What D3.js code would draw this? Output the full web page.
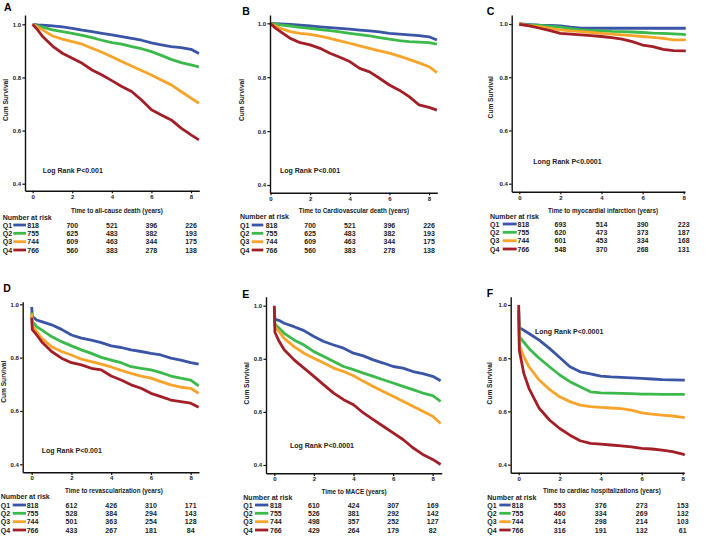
<!DOCTYPE html>
<html><head><meta charset="utf-8">
<script src="https://cdn.jsdelivr.net/npm/d3@7"></script>
<style>
body{margin:0;background:#fff;}
svg{display:block;font-family:"Liberation Sans",Arial,Helvetica,sans-serif;}
</style></head><body>
<svg id="chart" width="709" height="536"></svg>
<script>
// ---------- DATA ----------
const groups = ["Q1","Q2","Q3","Q4"];
const xTicks = [0,2,4,6,8];
const yTicks = [0.4,0.6,0.8,1.0];
const riskTimes = [0,2,4,6,8];
const timesLong  = [0,0.03,0.25,0.5,1,1.5,2,2.5,3,3.5,4,4.5,5,5.5,6,6.5,7,7.5,8,8.4];
const timesShort = [0,0.03,0.25,0.5,1,1.5,2,2.5,3,3.5,4,4.5,5,5.5,6,6.5,7,7.5,8,8.1];

// A: all-cause death
const survA_Q1 = [1,1,.998,.997,.994,.99,.985,.978,.972,.966,.96,.954,.947,.94,.93,.923,.916,.912,.906,.89];
const survA_Q2 = [1,.999,.994,.989,.979,.972,.966,.958,.95,.94,.931,.925,.916,.908,.897,.883,.868,.856,.847,.84];
const survA_Q3 = [1,.998,.99,.979,.956,.944,.935,.925,.91,.895,.878,.86,.843,.826,.809,.79,.772,.747,.722,.703];
const survA_Q4 = [1,.997,.979,.954,.918,.891,.872,.853,.828,.809,.788,.766,.747,.715,.678,.659,.64,.609,.584,.565];
// B: cardiovascular death
const survB_Q1 = [1,1,.999,.998,.996,.993,.99,.987,.984,.981,.978,.975,.972,.968,.963,.96,.957,.954,.95,.938];
const survB_Q2 = [1,1,.997,.994,.99,.985,.981,.977,.973,.968,.963,.958,.953,.947,.941,.936,.932,.93,.928,.923];
const survB_Q3 = [1,.998,.99,.981,.969,.963,.959,.952,.944,.935,.926,.916,.907,.898,.889,.878,.866,.853,.839,.817];
const survB_Q4 = [1,.997,.982,.969,.944,.928,.92,.907,.889,.874,.858,.833,.82,.796,.771,.752,.728,.697,.688,.678];
// C: myocardial infarction
const survC_Q1 = [1,1,.999,.998,.996,.995,.993,.988,.984,.984,.984,.984,.984,.984,.984,.984,.984,.984,.984,.984];
const survC_Q2 = [1,1,.998,.997,.995,.992,.988,.983,.978,.976,.974,.972,.971,.97,.968,.966,.965,.963,.961,.958];
const survC_Q3 = [1,1,.997,.994,.99,.984,.978,.974,.971,.968,.965,.962,.959,.956,.953,.95,.946,.94,.94,.94];
const survC_Q4 = [1,.999,.996,.993,.984,.975,.965,.962,.959,.956,.953,.949,.943,.934,.921,.915,.905,.9,.899,.899];
// D: revascularization
const survD_Q1 = [.99,.955,.941,.935,.923,.906,.885,.873,.866,.856,.844,.838,.829,.823,.816,.81,.798,.791,.781,.776];
const survD_Q2 = [.97,.935,.916,.904,.879,.86,.844,.829,.816,.801,.791,.781,.766,.76,.754,.744,.731,.723,.716,.694];
const survD_Q3 = [.965,.92,.898,.873,.841,.823,.81,.794,.785,.776,.765,.752,.741,.731,.723,.71,.698,.689,.685,.666];
const survD_Q4 = [.95,.905,.885,.86,.823,.798,.781,.773,.76,.754,.731,.716,.698,.685,.666,.654,.641,.635,.629,.614];
// E: MACE
const survE_Q1 = [.99,.95,.944,.934,.921,.906,.884,.865,.852,.84,.821,.811,.796,.784,.771,.765,.752,.744,.734,.717];
const survE_Q2 = [.98,.93,.915,.896,.871,.852,.827,.809,.79,.771,.759,.746,.734,.721,.709,.696,.684,.671,.661,.64];
const survE_Q3 = [.97,.92,.902,.877,.846,.821,.802,.784,.765,.752,.736,.715,.696,.677,.659,.64,.621,.602,.584,.556];
const survE_Q4 = [1,.9,.865,.834,.796,.765,.734,.702,.671,.646,.627,.596,.571,.546,.521,.496,.465,.44,.421,.402];
// F: cardiac hospitalizations
const survF_Q1 = [.98,.915,.905,.893,.868,.837,.803,.768,.749,.741,.733,.73,.728,.726,.724,.722,.72,.719,.718,.718];
const survF_Q2 = [.96,.88,.86,.837,.8,.768,.737,.712,.693,.674,.67,.669,.668,.667,.665,.665,.664,.664,.664,.664];
const survF_Q3 = [.95,.85,.806,.768,.718,.683,.655,.637,.624,.618,.615,.613,.611,.605,.595,.59,.586,.583,.578,.578];
const survF_Q4 = [1,.83,.743,.687,.612,.568,.536,.511,.49,.48,.477,.474,.471,.467,.461,.459,.455,.449,.44,.436];

// Number at risk
const riskA = [[818,700,521,396,226],[755,625,483,382,193],[744,609,463,344,175],[766,560,383,278,138]];
const riskB = [[818,700,521,396,226],[755,625,483,382,193],[744,609,463,344,175],[766,560,383,278,138]];
const riskC = [[818,693,514,390,223],[755,620,473,373,187],[744,601,453,334,168],[766,548,370,268,131]];
const riskD = [[818,612,426,310,171],[755,528,384,294,143],[744,501,363,254,128],[766,433,267,181,84]];
const riskE = [[818,610,424,307,169],[755,526,381,292,142],[744,498,357,252,127],[766,429,264,179,82]];
const riskF = [[818,553,376,273,153],[755,460,334,269,132],[744,414,298,214,103],[766,316,191,132,61]];

const panelLetters = ["A","B","C","D","E","F"];
const xTitles = ["Time to all-cause death (years)","Time to Cardiovascular death (years)","Time to myocardial infarction (years)",
                 "Time to revascularization (years)","Time to MACE (years)","Time to cardiac hospitalizations (years)"];
const pTexts = ["Log Rank P<0.001","Log Rank P<0.001","Long Rank P<0.0001","Log Rank P<0.001","Log Rank P<0.0001","Long Rank P<0.0001"];
const yTitle = "Cum Survival";
const riskTitle = "Number at risk";

const panels = [
  {times: timesLong,  series:[survA_Q1,survA_Q2,survA_Q3,survA_Q4], risk: riskA},
  {times: timesLong,  series:[survB_Q1,survB_Q2,survB_Q3,survB_Q4], risk: riskB},
  {times: timesShort, series:[survC_Q1,survC_Q2,survC_Q3,survC_Q4], risk: riskC},
  {times: timesLong,  series:[survD_Q1,survD_Q2,survD_Q3,survD_Q4], risk: riskD},
  {times: timesLong,  series:[survE_Q1,survE_Q2,survE_Q3,survE_Q4], risk: riskE},
  {times: timesShort, series:[survF_Q1,survF_Q2,survF_Q3,survF_Q4], risk: riskF}
];

// ---------- LAYOUT / STYLE ----------
const colors = ["#3a55a6","#3cb94b","#f8a42a","#a21f27"];
const layout = [
 {ax:25,   x0:32.7,  x8:191,   xEnd:199.3, y10:24.3,  y04:183.7, yBot:190.7, yTop:15,    letter:[4,10.7],     ylab:[7.5,100],   xt:[117,213],   nar:[2.7,219.5],  rows:[225,233.3,241.7,250], qx:2.7,   sw:[13.3,26],    n0:27.3,  p:[42.7,172.5]},
 {ax:270,  x0:270.5, x8:429,   xEnd:437.3, y10:23.3,  y04:185,   yBot:192.7, yTop:15,    letter:[242.3,15],   ylab:[243.5,100], xt:[354,213],   nar:[240,218.5],  rows:[225,233.3,241.7,250], qx:240,   sw:[251.7,263.3],n0:265.7, p:[280,173.2]},
 {ax:511.7,x0:519.3, x8:683.7, xEnd:685,   y10:24,    y04:183.7, yBot:191.7, yTop:15,    letter:[486.7,15],   ylab:[493,97.3],  xt:[603,213],   nar:[490,218.5],  rows:[224,232.3,240.7,249], qx:490,   sw:[502.7,516.7],n0:517.5, p:[533.3,164.2]},
 {ax:22.7, x0:31.7,  x8:190.7, xEnd:199,   y10:304.3, y04:464.3, yBot:472.3, yTop:301.7, letter:[3.3,291.7],  ylab:[6.3,381.7], xt:[114,493],   nar:[0.7,499.2],  rows:[505,513.3,521.7,530], qx:0.7,   sw:[12.7,26],    n0:26.7,  p:[41.7,452.5]},
 {ax:266,  x0:274.3, x8:432.7, xEnd:441.7, y10:305.7, y04:465,   yBot:473.3, yTop:296.7, letter:[242.3,298.3],ylab:[248.5,383.3],xt:[354,494],  nar:[243.3,499.8],rows:[505,513.3,521.7,530], qx:243.3, sw:[255,268.3],  n0:270,   p:[290,447.5]},
 {ax:510.7,x0:518.7, x8:682.7, xEnd:684.3, y10:305,   y04:464.7, yBot:472.7, yTop:296.7, letter:[486.7,296.7],ylab:[492,383.3], xt:[602,493.3], nar:[487.3,499.8],rows:[505,513.3,521.7,530], qx:487.3, sw:[499.3,510.7],n0:511.7, p:[535,334.2]}
];

const svg = d3.select("#chart");
svg.append("rect").attr("width",709).attr("height",536).attr("fill","#fff");

panels.forEach((pd, i) => {
  const L = layout[i];
  const g = svg.append("g");
  const x = d3.scaleLinear().domain([0,8]).range([L.x0, L.x8]);
  const y = d3.scaleLinear().domain([0.4,1.0]).range([L.y04, L.y10]);

  const xa = d3.scaleLinear().domain([x.invert(L.ax), x.invert(L.xEnd)]).range([L.ax, L.xEnd]);
  const ya = d3.scaleLinear().domain([y.invert(L.yBot), y.invert(L.yTop)]).range([L.yBot, L.yTop]);

  const line = d3.line().x(d => x(d[0])).y(d => y(d[1]));
  [0,1,2,3].forEach(k => {
    const pts = pd.times.map((t, j) => [t, pd.series[k][j]]);
    g.append("path").attr("d", line(pts))
      .attr("fill","none").attr("stroke",colors[k])
      .attr("stroke-width",2.8).attr("stroke-linejoin","round");
  });

  const yAxis = d3.axisLeft(ya).tickValues(yTicks).tickSize(2.6).tickSizeOuter(0).tickPadding(1.2)
      .tickFormat(d3.format(".1f"));
  const xAxis = d3.axisBottom(xa).tickValues(xTicks).tickSize(2.6).tickSizeOuter(0).tickPadding(1)
      .tickFormat(d3.format("d"));
  const gy = g.append("g").attr("transform",`translate(${L.ax},0)`).call(yAxis);
  const gx = g.append("g").attr("transform",`translate(0,${L.yBot})`).call(xAxis);
  [gy,gx].forEach(a => {
    a.select(".domain").attr("stroke","#111").attr("stroke-width",1.4);
    a.selectAll(".tick line").attr("stroke","#111").attr("stroke-width",1.2);
    a.selectAll(".tick text").attr("font-size",6).attr("font-weight","bold").attr("fill","#222")
      .attr("font-family",'"Liberation Sans",Arial,sans-serif');
  });

  g.append("text").attr("x",L.letter[0]).attr("y",L.letter[1]).text(panelLetters[i])
    .attr("font-size",10.5).attr("font-weight","bold").attr("fill","#000");

  g.append("text").attr("transform",`translate(${L.ylab[0]},${L.ylab[1]}) rotate(-90)`)
    .attr("text-anchor","middle").attr("font-size",6.6).attr("font-weight","bold").attr("fill","#222").text(yTitle);

  g.append("text").attr("x",L.xt[0]).attr("y",L.xt[1]).attr("text-anchor","middle")
    .attr("font-size",6.3).attr("font-weight","bold").attr("fill","#222").text(xTitles[i]);

  g.append("text").attr("x",L.p[0]).attr("y",L.p[1])
    .attr("font-size",7).attr("font-weight","bold").attr("fill","#222").text(pTexts[i]);

  g.append("text").attr("x",L.nar[0]).attr("y",L.nar[1])
    .attr("font-size",7).attr("font-weight","bold").attr("fill","#222").text(riskTitle);
  groups.forEach((q, k) => {
    const cy = L.rows[k];
    g.append("text").attr("x",L.qx).attr("y",cy+2.5).attr("font-size",7).attr("font-weight","bold")
      .attr("fill","#222").text(q);
    g.append("line").attr("x1",L.sw[0]).attr("x2",L.sw[1]).attr("y1",cy).attr("y2",cy)
      .attr("stroke",colors[k]).attr("stroke-width",2.8);
    pd.risk[k].forEach((n, j) => {
      const t = riskTimes[j];
      g.append("text")
        .attr("x", j === 0 ? L.n0 : x(t))
        .attr("y", cy+2.5)
        .attr("text-anchor", j === 0 ? "start" : "middle")
        .attr("font-size",7).attr("font-weight","bold").attr("fill","#222").text(n);
    });
  });
});
</script>
</body></html>
